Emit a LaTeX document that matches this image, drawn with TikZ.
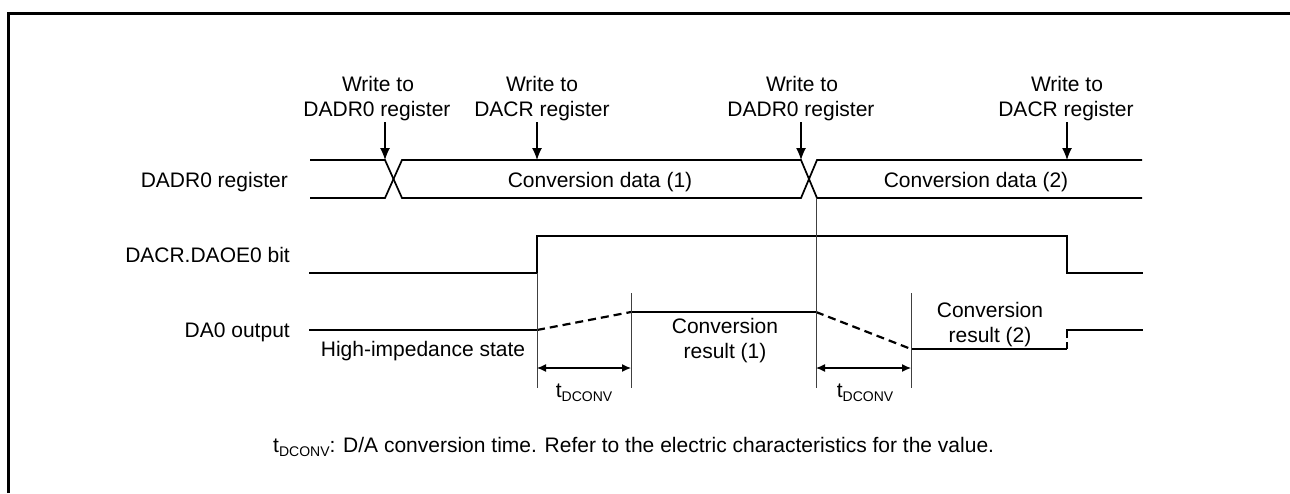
\documentclass[tikz,border=0pt]{standalone}
\usepackage{fontspec}
\setmainfont{Liberation Sans}
\usetikzlibrary{arrows.meta}
\newcommand{\tdc}{t\raisebox{-4pt}{\fontsize{14}{14}\selectfont DCONV}}
\tikzset{
  lbl/.style={inner sep=0pt, font=\fontsize{21}{25}\selectfont},
  sig/.style={line width=1.7pt},
  dsig/.style={line width=2.2pt, dash pattern=on 8pt off 5pt},
  guide/.style={line width=0.8pt, black!75},
  wr/.style={line width=1.2pt, -{Latex[length=12pt,width=10pt]}},
  dim/.style={line width=1.2pt, {Latex[length=9pt,width=8pt]}-{Latex[length=9pt,width=8pt]}},
}
\begin{document}
\begin{tikzpicture}[x=1pt,y=-1pt]
\useasboundingbox (0,0) rectangle (1290,493);
% frame
\draw[line width=3pt] (8,493) -- (8,13) -- (1290,13);

% row labels
\node[lbl, anchor=base east] (lDADR) at (288,187) {DADR0 register};
\node[lbl, anchor=base east] (lDAOE) at (290,262) {DACR.DAOE0 bit};
\node[lbl, anchor=base east] (lDA0) at (290,337) {DA0 output};

% write labels
\node[lbl, anchor=base] (w1a) at (378,91) {Write to};
\node[lbl, anchor=base] (w1b) at (377,116) {DADR0 register};
\node[lbl, anchor=base] (w2a) at (542,91) {Write to};
\node[lbl, anchor=base] (w2b) at (542,116) {DACR register};
\node[lbl, anchor=base] (w3a) at (802,91) {Write to};
\node[lbl, anchor=base] (w3b) at (801,116) {DADR0 register};
\node[lbl, anchor=base] (w4a) at (1067,91) {Write to};
\node[lbl, anchor=base] (w4b) at (1066,116) {DACR register};

% arrow targets
\coordinate (a1s) at (385,122); \coordinate (a1e) at (385,160);
\coordinate (a2s) at (537,122); \coordinate (a2e) at (537,160);
\coordinate (a3s) at (801,122); \coordinate (a3e) at (801,160);
\coordinate (a4s) at (1067,122); \coordinate (a4e) at (1067,160);
\draw[wr] (a1s) -- (a1e);
\draw[wr] (a2s) -- (a2e);
\draw[wr] (a3s) -- (a3e);
\draw[wr] (a4s) -- (a4e);

% DADR0 bus
\draw[sig] (310,160) -- (385,160) -- (402,198) -- (801,198) -- (817,160) -- (1142,160);
\draw[sig] (310,198) -- (385,198) -- (402,160) -- (801,160) -- (817,198) -- (1142,198);
\node[lbl, anchor=base] (cd1) at (600,187) {Conversion data (1)};
\node[lbl, anchor=base] (cd2) at (976,187) {Conversion data (2)};

% DAOE0
\draw[sig] (309,273) -- (537,273) -- (537,236) -- (1067,236) -- (1067,273) -- (1143,273);

% DA0 output
\draw[sig] (309,330) -- (537,330);
\draw[dsig] (537,330) -- (631,312);
\draw[sig] (631,312) -- (816,312);
\draw[dsig] (816,312) -- (911,349);
\draw[sig] (911,349) -- (1067,349);
\draw[line width=2.2pt, dash pattern=on 7pt off 4pt] (1067,349) -- (1067,330);
\draw[sig] (1066.2,330) -- (1143,330);

\node[lbl, anchor=base] (hiz) at (423,356) {High-impedance state};
\node[lbl, anchor=base] (cr1a) at (725,333) {Conversion};
\node[lbl, anchor=base] (cr1b) at (725,358) {result (1)};
\node[lbl, anchor=base] (cr2a) at (990,317) {Conversion};
\node[lbl, anchor=base] (cr2b) at (990,342) {result (2)};

% guides
\draw[guide] (537,273) -- (537,388);
\draw[guide] (631,293) -- (631,388);
\draw[guide] (816,198) -- (816,388);
\draw[guide] (911,293) -- (911,388);

% timing dimensions
\coordinate (d1l) at (537,368); \coordinate (d1r) at (631,368);
\coordinate (d2l) at (816,368); \coordinate (d2r) at (911,368);
\draw[dim] (d1l) -- (d1r);
\draw[dim] (d2l) -- (d2r);
\node[lbl, anchor=base] (t1) at (584,397) {\tdc};
\node[lbl, anchor=base] (t2) at (865,397) {\tdc};

% footnote
\node[lbl, anchor=base west] (fn) at (273,452) {\tdc: D/A conversion time. Refer to the electric characteristics for the value.};
\end{tikzpicture}
\end{document}
